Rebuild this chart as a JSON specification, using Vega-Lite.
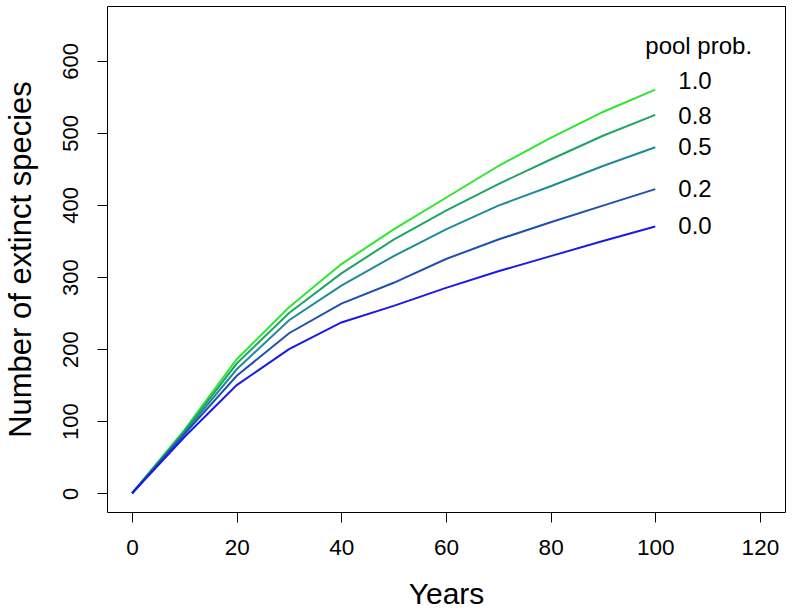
{
  "$schema": "https://vega.github.io/schema/vega-lite/v6.json",
  "autosize": "none",
  "width": 678,
  "height": 506,
  "padding": {"left": 107, "top": 6, "right": 8, "bottom": 101},
  "background": "white",
  "config": {
    "view": {"stroke": "black", "strokeWidth": 1},
    "font": "Liberation Sans"
  },
  "datasets": {
    "curves": [
      {"years": 0, "extinct": 0, "pool": "1.0"},
      {"years": 10, "extinct": 88, "pool": "1.0"},
      {"years": 20, "extinct": 186, "pool": "1.0"},
      {"years": 30, "extinct": 258, "pool": "1.0"},
      {"years": 40, "extinct": 318, "pool": "1.0"},
      {"years": 50, "extinct": 366, "pool": "1.0"},
      {"years": 60, "extinct": 410, "pool": "1.0"},
      {"years": 70, "extinct": 454, "pool": "1.0"},
      {"years": 80, "extinct": 493, "pool": "1.0"},
      {"years": 90, "extinct": 529, "pool": "1.0"},
      {"years": 100, "extinct": 560, "pool": "1.0"},
      {"years": 0, "extinct": 0, "pool": "0.8"},
      {"years": 10, "extinct": 86, "pool": "0.8"},
      {"years": 20, "extinct": 180, "pool": "0.8"},
      {"years": 30, "extinct": 250, "pool": "0.8"},
      {"years": 40, "extinct": 305, "pool": "0.8"},
      {"years": 50, "extinct": 352, "pool": "0.8"},
      {"years": 60, "extinct": 392, "pool": "0.8"},
      {"years": 70, "extinct": 429, "pool": "0.8"},
      {"years": 80, "extinct": 463, "pool": "0.8"},
      {"years": 90, "extinct": 496, "pool": "0.8"},
      {"years": 100, "extinct": 525, "pool": "0.8"},
      {"years": 0, "extinct": 0, "pool": "0.5"},
      {"years": 10, "extinct": 84, "pool": "0.5"},
      {"years": 20, "extinct": 172, "pool": "0.5"},
      {"years": 30, "extinct": 240, "pool": "0.5"},
      {"years": 40, "extinct": 288, "pool": "0.5"},
      {"years": 50, "extinct": 329, "pool": "0.5"},
      {"years": 60, "extinct": 366, "pool": "0.5"},
      {"years": 70, "extinct": 399, "pool": "0.5"},
      {"years": 80, "extinct": 426, "pool": "0.5"},
      {"years": 90, "extinct": 454, "pool": "0.5"},
      {"years": 100, "extinct": 480, "pool": "0.5"},
      {"years": 0, "extinct": 0, "pool": "0.2"},
      {"years": 10, "extinct": 82, "pool": "0.2"},
      {"years": 20, "extinct": 163, "pool": "0.2"},
      {"years": 30, "extinct": 222, "pool": "0.2"},
      {"years": 40, "extinct": 263, "pool": "0.2"},
      {"years": 50, "extinct": 292, "pool": "0.2"},
      {"years": 60, "extinct": 325, "pool": "0.2"},
      {"years": 70, "extinct": 352, "pool": "0.2"},
      {"years": 80, "extinct": 376, "pool": "0.2"},
      {"years": 90, "extinct": 399, "pool": "0.2"},
      {"years": 100, "extinct": 422, "pool": "0.2"},
      {"years": 0, "extinct": 0, "pool": "0.0"},
      {"years": 10, "extinct": 78, "pool": "0.0"},
      {"years": 20, "extinct": 150, "pool": "0.0"},
      {"years": 30, "extinct": 200, "pool": "0.0"},
      {"years": 40, "extinct": 237, "pool": "0.0"},
      {"years": 50, "extinct": 260, "pool": "0.0"},
      {"years": 60, "extinct": 285, "pool": "0.0"},
      {"years": 70, "extinct": 308, "pool": "0.0"},
      {"years": 80, "extinct": 329, "pool": "0.0"},
      {"years": 90, "extinct": 350, "pool": "0.0"},
      {"years": 100, "extinct": 370, "pool": "0.0"}
    ],
    "labels": [
      {"x": 108.3, "y": 619, "text": "pool prob."},
      {"x": 107.6, "y": 570, "text": "1.0"},
      {"x": 107.6, "y": 522, "text": "0.8"},
      {"x": 107.6, "y": 479, "text": "0.5"},
      {"x": 107.6, "y": 421, "text": "0.2"},
      {"x": 107.6, "y": 369, "text": "0.0"}
    ]
  },
  "layer": [
    {
      "data": {"name": "curves"},
      "mark": {"type": "line", "strokeWidth": 2, "clip": true},
      "encoding": {
        "x": {
          "field": "years", "type": "quantitative",
          "scale": {"domain": [-4.8, 124.8], "nice": false, "zero": false},
          "axis": {
            "values": [0, 20, 40, 60, 80, 100, 120],
            "grid": false, "domain": false,
            "tickSize": 10, "tickColor": "black", "tickWidth": 1,
            "labelFontSize": 22.5, "labelColor": "black", "labelPadding": 14,
            "labelFont": "Liberation Sans",
            "title": "Years", "titleFontSize": 30, "titleFontWeight": "normal",
            "titleColor": "black", "titlePadding": 21, "titleFont": "Liberation Sans"
          }
        },
        "y": {
          "field": "extinct", "type": "quantitative",
          "scale": {"domain": [-26, 676], "nice": false, "zero": false},
          "axis": {
            "values": [0, 100, 200, 300, 400, 500, 600],
            "grid": false, "domain": false,
            "tickSize": 10, "tickColor": "black", "tickWidth": 1,
            "labelFontSize": 22, "labelColor": "black", "labelPadding": 15,
            "labelAngle": -90, "labelAlign": "center", "labelBaseline": "bottom",
            "labelFont": "Liberation Sans",
            "title": "Number of extinct species", "titleFontSize": 31,
            "titleFontWeight": "normal", "titleColor": "black", "titlePadding": 22,
            "titleFont": "Liberation Sans"
          }
        },
        "color": {
          "field": "pool", "type": "nominal",
          "scale": {
            "domain": ["0.0", "0.2", "0.5", "0.8", "1.0"],
            "range": ["#1a1ae6", "#1f4fb0", "#1f8a98", "#1fa466", "#2ee62e"]
          },
          "legend": null
        },
        "detail": {"field": "pool"}
      }
    },
    {
      "data": {"name": "labels"},
      "mark": {"type": "text", "fontSize": 24, "color": "black", "align": "center", "baseline": "middle", "font": "Liberation Sans"},
      "encoding": {
        "x": {"field": "x", "type": "quantitative"},
        "y": {"field": "y", "type": "quantitative"},
        "text": {"field": "text"}
      }
    }
  ]
}
